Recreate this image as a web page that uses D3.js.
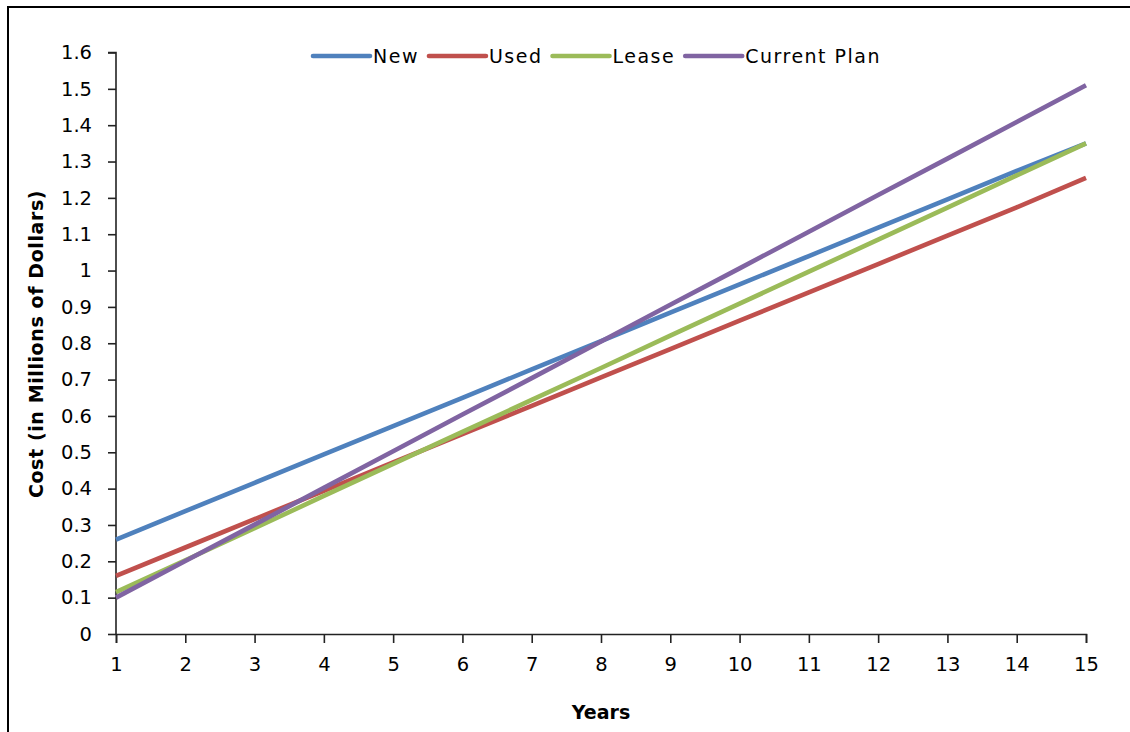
<!DOCTYPE html>
<html>
<head>
<meta charset="utf-8">
<script src="https://cdn.jsdelivr.net/npm/d3@7"></script>
<style>
  body { margin: 0; background: #fff; }
  svg text { font-family: "DejaVu Sans", Verdana, sans-serif; fill: #000; }
</style>
</head>
<body>
<div id="chart"></div>
<script>

// years on the x axis
var years = [1, 2, 3, 4, 5, 6, 7, 8, 9, 10, 11, 12, 13, 14, 15];

// cost in millions of dollars
var newCost     = [0.26, 0.338, 0.416, 0.494, 0.572, 0.65, 0.728, 0.806, 0.884, 0.962, 1.04, 1.118, 1.196, 1.274, 1.35];
var usedCost    = [0.16, 0.238, 0.316, 0.394, 0.472, 0.55, 0.628, 0.706, 0.784, 0.862, 0.94, 1.018, 1.096, 1.174, 1.255];
var leaseCost   = [0.115, 0.203, 0.291, 0.38, 0.468, 0.556, 0.644, 0.732, 0.821, 0.909, 0.997, 1.085, 1.173, 1.262, 1.35];
var currentCost = [0.10, 0.201, 0.301, 0.402, 0.503, 0.604, 0.704, 0.805, 0.906, 1.006, 1.107, 1.208, 1.308, 1.409, 1.51];

var seriesNames  = ['New', 'Used', 'Lease', 'Current Plan'];
var seriesColors = ['#4f81bd', '#c0504d', '#9bbb59', '#8064a2'];
var yTicks = [0, 0.1, 0.2, 0.3, 0.4, 0.5, 0.6, 0.7, 0.8, 0.9, 1, 1.1, 1.2, 1.3, 1.4, 1.5, 1.6];

var series = [newCost, usedCost, leaseCost, currentCost].map(function (vals, i) {
    return { name: seriesNames[i], color: seriesColors[i],
             values: vals.map(function (v, j) { return { year: years[j], value: v }; }) };
});

var W = 1130, H = 732;

var x = d3.scaleLinear().domain([1, 15]).range([116, 1086]),
    y = d3.scaleLinear().domain([0, 1.6]).range([634, 52.5]);

var svg = d3.select('#chart').append('svg')
    .attr('width', W)
    .attr('height', H);

// chart area frame (right and bottom edges run off the picture)
svg.append('rect')
    .attr('x', 8).attr('y', 7)
    .attr('width', 1140).attr('height', 760)
    .attr('fill', 'none')
    .attr('stroke', '#000')
    .attr('stroke-width', 2);

// y axis
var yAxis = svg.append('g')
    .attr('transform', 'translate(116,0)')
    .call(d3.axisLeft(y).tickValues(yTicks).tickSize(8).tickPadding(16)
        .tickFormat(function (d) { return d3.format('')(+d.toFixed(1)); }));

// x axis
var xAxis = svg.append('g')
    .attr('transform', 'translate(0,634)')
    .call(d3.axisBottom(x).tickValues(years).tickSize(9).tickPadding(14).tickSizeOuter(9));

[yAxis, xAxis].forEach(function (g) {
    g.select('.domain').attr('stroke', '#222').attr('stroke-width', 1.6);
    g.selectAll('.tick line').attr('stroke', '#222').attr('stroke-width', 1.6);
    g.selectAll('text')
        .attr('font-size', 19.5)
        .attr('font-family', '"DejaVu Sans", Verdana, sans-serif')
        .attr('fill', '#000');
});
yAxis.select('.domain').attr('d', 'M-8,' + y(1.6) + 'H0V' + y(0));
xAxis.selectAll('text').attr('dy', '0.72em');

// lines
var line = d3.line()
    .x(function (d) { return x(d.year); })
    .y(function (d) { return y(d.value); });

svg.append('g')
    .selectAll('path')
    .data(series).enter()
  .append('path')
    .attr('d', function (d) { return line(d.values); })
    .attr('fill', 'none')
    .attr('stroke', function (d) { return d.color; })
    .attr('stroke-width', 4.6)
    .attr('stroke-linecap', 'butt');

// legend
var legend = svg.append('g').attr('class', 'legend');
var lx = 313, ly = 56;
series.forEach(function (s) {
    legend.append('line')
        .attr('x1', lx).attr('x2', lx + 57)
        .attr('y1', ly).attr('y2', ly)
        .attr('stroke', s.color)
        .attr('stroke-width', 4.6)
        .attr('stroke-linecap', 'round');
    var t = legend.append('text')
        .attr('x', lx + 60)
        .attr('y', ly)
        .attr('dy', '0.36em')
        .attr('font-size', 19)
        .attr('letter-spacing', 1.5)
        .text(s.name);
    lx += 60 + t.node().getComputedTextLength() + 10;
});

// axis titles
svg.append('text')
    .attr('x', 601)
    .attr('y', 719)
    .attr('text-anchor', 'middle')
    .attr('font-weight', 'bold')
    .attr('font-size', 19)
    .text('Years');

svg.append('text')
    .attr('transform', 'translate(43,344) rotate(-90)')
    .attr('text-anchor', 'middle')
    .attr('font-weight', 'bold')
    .attr('font-size', 19)
    .attr('letter-spacing', 0.6)
    .text('Cost (in Millions of Dollars)');

</script>
</body>
</html>
